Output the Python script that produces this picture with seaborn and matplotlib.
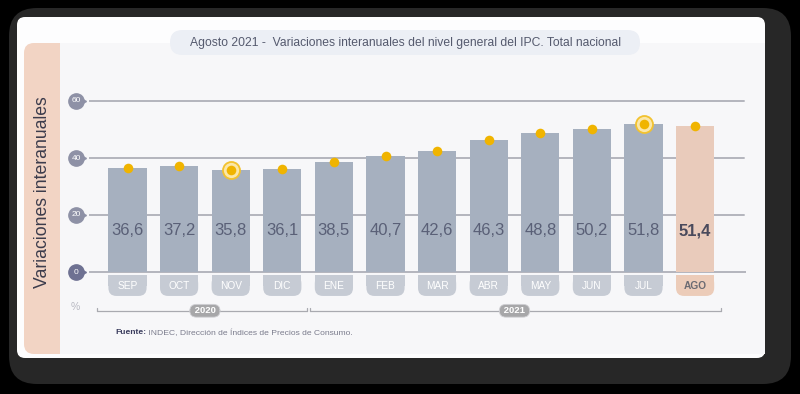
import matplotlib
matplotlib.use("Agg")
import matplotlib.pyplot as plt
import matplotlib.transforms as mtransforms
from matplotlib.patches import FancyBboxPatch, Rectangle
import seaborn as sns
import pandas as pd

# ---- data ----
months = ["SEP", "OCT", "NOV", "DIC", "ENE", "FEB", "MAR", "ABR", "MAY", "JUN", "JUL", "AGO"]
values = [36.6, 37.2, 35.8, 36.1, 38.5, 40.7, 42.6, 46.3, 48.8, 50.2, 51.8, 51.4]
years = ["2020", "2021"]
year_month_counts = [4, 8]
highlight = ["NOV", "JUL"]
current = "AGO"
yticks = [0, 20, 40, 60]
title = "Agosto 2021 -  Variaciones interanuales del nivel general del IPC. Total nacional"
ylabel = "Variaciones interanuales"
source_bold = "Fuente:"
source_rest = " INDEC, Dirección de Índices de Precios de Consumo."

sns.set_theme(style="white")
plt.rcParams["font.family"] = ["Liberation Sans", "DejaVu Sans"]

BAR = "#a6b0bf"
PEACH = "#e9cbbb"
PILL = "#c6cbd4"
DOT = "#f0b400"
GRID = "#b4b5bd"
TEXT = "#5a6077"

fig = plt.figure(figsize=(8, 3.94), dpi=100)
fig.patch.set_facecolor("black")

# background / decorations in pixel coordinates
bg = fig.add_axes([0, 0, 1, 1])
bg.set_xlim(0, 800)
bg.set_ylim(394, 0)
bg.axis("off")

def rbox(ax, x, y, w, h, r, color, z=0, **kw):
    p = FancyBboxPatch((x, y), w, h, boxstyle=f"round,pad=0,rounding_size={r}",
                       fc=color, ec="none", zorder=z, **kw)
    ax.add_patch(p)
    return p

rbox(bg, 9, 8, 782, 376, 28, "#272727", z=0)
rbox(bg, 17, 17, 748, 341, 8, "#fdfdfe", z=1)
bg.add_patch(Rectangle((60, 43), 705, 311, fc="#f7f7f9", ec="none", zorder=1.2))
# left band
rbox(bg, 24, 43, 36, 311, 10, "#f2d4c4", z=1.5)
bg.add_patch(Rectangle((45, 43), 15, 311, fc="#f2d4c4", ec="none", zorder=1.6))
bg.text(43, 192, ylabel, rotation=90, ha="center", va="center",
        fontsize=12.7, color="#3c3c4c", zorder=3)
# title pill
rbox(bg, 170, 30, 470, 25, 12.5, "#eceff5", z=2)
bg.text(405, 43, title, ha="center", va="center", fontsize=8.7, color="#555a6e", zorder=3)
# percent + source
bg.text(75, 307, "%", ha="center", va="center", fontsize=7.5, color="#b8b9c2", zorder=3)
t1 = bg.text(115, 333, source_bold, ha="left", va="center", fontsize=6.1,
             fontweight="bold", color="#3b3d5e", zorder=3)
fig.canvas.draw()
bb = t1.get_window_extent()
bg.text(115 + bb.width, 333, source_rest, ha="left", va="center", fontsize=6.1,
        color="#7a7b8c", zorder=3)

# ---- data axes ----
px_x = 51.6   # px per category
px_y = 2.85   # px per unit
x0_px, y0_px = 127.5, 272
xlim = (-0.75, 11.98)
ylim = (-16, 62)
left = (x0_px + xlim[0] * px_x) / 800
width = (xlim[1] - xlim[0]) * px_x / 800
bottom = 1 - (y0_px - ylim[0] * px_y) / 394
height = (ylim[1] - ylim[0]) * px_y / 394
ax = fig.add_axes([left, bottom, width, height])
ax.patch.set_alpha(0)

df = pd.DataFrame({"mes": months, "valor": values})
colors = [PEACH if m == current else BAR for m in months]
sns.barplot(data=df, x="mes", y="valor", hue="mes", palette=colors, order=months,
            width=0.74, legend=False, ax=ax, zorder=2, saturation=1, linewidth=0)
ax.set_xlim(*xlim)
ax.set_ylim(*ylim)
for s in ax.spines.values():
    s.set_visible(False)
ax.set_xlabel("")
ax.set_ylabel("")
ax.set_xticks([])
ax.set_yticks([])

for yt in yticks:
    ax.axhline(yt, color=GRID, lw=1.4, zorder=1, xmax=0.997 if yt else 1.0)

# y tick badges
trans = mtransforms.blended_transform_factory(ax.transAxes, ax.transData)
bx = (76 - left * 800) / (width * 800)
for yt in yticks:
    c = "#6e7192" if yt == 0 else "#8e91a6"
    ax.plot([bx + 0.009], [yt], marker=">", ms=6, color=c, transform=trans,
            clip_on=False, zorder=4)
    ax.plot([bx], [yt], marker="o", ms=11, color=c, transform=trans,
            clip_on=False, zorder=4)
    ax.text(bx, yt, str(yt), transform=trans, ha="center", va="center",
            fontsize=6, color="white", zorder=5)

# dots
for i, (m, v) in enumerate(zip(months, values)):
    if m in highlight:
        ax.scatter([i], [v], s=150, fc="#fbe7a8", ec="#f2c230", lw=1.3, zorder=5, clip_on=False)
    ax.scatter([i], [v], s=48, color=DOT, zorder=6, lw=0, clip_on=False)
    lab = f"{v:.1f}".replace(".", ",")
    cur = m == current
    ax.text(i, 14.4, lab, ha="center", va="center", fontsize=12,
            fontweight="bold" if cur else "normal",
            color="#4a4a5c" if cur else TEXT, zorder=6)

# month pills
asp = px_x / px_y
r = 8 / px_x
for i, m in enumerate(months):
    cur = m == current
    fc = "#ecccb9" if cur else PILL
    x = i - 0.37
    ptop, pbot = -1.2, -8.4
    ax.add_patch(FancyBboxPatch((x, pbot), 0.74, ptop - pbot,
                                boxstyle=f"round,pad=0,rounding_size={r}",
                                mutation_aspect=asp, fc=fc, ec="none",
                                zorder=3, clip_on=False))
    ax.add_patch(Rectangle((x, (ptop + pbot) / 2), 0.74, (ptop - pbot) / 2,
                           fc=fc, ec="none", zorder=3, clip_on=False))
    ax.text(i, (ptop + pbot) / 2, m, ha="center", va="center", fontsize=7.3,
            fontweight="bold" if cur else "normal",
            color="#6a6a72" if cur else "white", zorder=4)

# year brackets
yb = -13.6
for k, (yr, n) in enumerate(zip(years, year_month_counts)):
    s = -0.59 if k == 0 else sum(year_month_counts[:k]) - 0.46
    e = sum(year_month_counts[:k + 1]) - 0.52 if k == 0 else sum(year_month_counts[:k + 1]) - 0.49
    ax.plot([s, e], [yb, yb], color="#a9aab0", lw=0.9, zorder=3, clip_on=False)
    ax.plot([s, s], [yb, yb + 1.0], color="#a9aab0", lw=0.9, zorder=3, clip_on=False)
    ax.plot([e, e], [yb, yb + 1.0], color="#a9aab0", lw=0.9, zorder=3, clip_on=False)
    c = sum(year_month_counts[:k]) + (n - 1) / 2
    ax.text(c, yb, f" {yr} ", ha="center", va="center", fontsize=6.8, fontweight="bold",
            color="white", zorder=5,
            bbox=dict(boxstyle="round,pad=0.2,rounding_size=0.7", fc="#a7a7a9",
                      ec="#d0d0d4", lw=0.6))

fig.savefig("out.png", dpi=100, facecolor=fig.get_facecolor())
